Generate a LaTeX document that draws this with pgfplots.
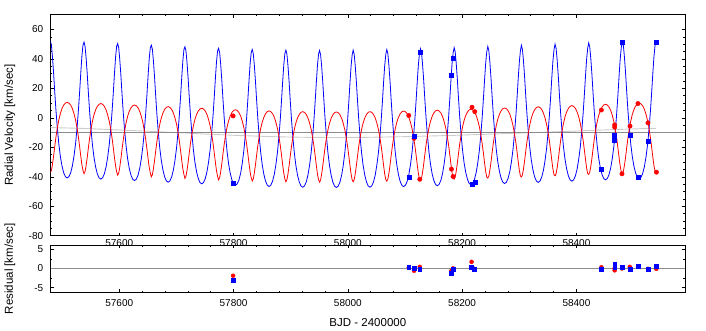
\documentclass[border=0pt]{standalone}
\usepackage{fontspec}
\setmainfont{Liberation Sans}
\usepackage{pgfplots}
\usepackage{pgfplotstable}
\pgfplotsset{compat=1.18}

% model curves: time, primary (blue), secondary (red)
\pgfplotstableread{
t b r
57479.4 52.2 -37.1
57481.2 49.4 -35.7
57483.0 41.8 -31.8
57485.0 30.8 -26.2
57487.0 18.0 -19.7
57489.2 5.1 -13.0
57491.6 -6.9 -6.9
57494.1 -17.3 -1.6
57496.8 -25.9 2.8
57499.7 -32.5 6.2
57502.7 -37.2 8.6
57505.7 -39.9 10.0
57508.8 -40.8 10.5
57511.9 -39.9 10.0
57515.0 -37.2 8.6
57518.0 -32.5 6.2
57520.8 -25.9 2.8
57523.6 -17.3 -1.6
57526.1 -6.9 -6.9
57528.5 5.1 -13.0
57530.7 18.0 -19.7
57532.7 30.8 -26.2
57534.6 41.8 -31.8
57536.5 49.4 -35.7
57538.3 51.4 -37.9
57540.1 48.6 -36.5
57541.9 41.0 -32.6
57543.9 30.0 -27.0
57545.9 17.2 -20.5
57548.1 4.3 -13.8
57550.5 -7.7 -7.7
57553.0 -18.1 -2.4
57555.7 -26.7 2.0
57558.6 -33.3 5.4
57561.6 -38.0 7.8
57564.6 -40.7 9.2
57567.7 -41.6 9.7
57570.8 -40.7 9.2
57573.9 -38.0 7.8
57576.9 -33.3 5.4
57579.7 -26.7 2.0
57582.5 -18.1 -2.4
57585.0 -7.7 -7.7
57587.4 4.3 -13.8
57589.6 17.2 -20.5
57591.6 30.0 -27.0
57593.5 41.0 -32.6
57595.4 48.6 -36.5
57597.2 50.4 -38.9
57599.0 47.6 -37.5
57600.8 40.0 -33.6
57602.8 29.0 -28.0
57604.8 16.2 -21.5
57607.0 3.3 -14.8
57609.4 -8.7 -8.7
57611.9 -19.1 -3.4
57614.6 -27.7 1.0
57617.5 -34.3 4.4
57620.5 -39.0 6.8
57623.5 -41.7 8.2
57626.6 -42.6 8.7
57629.7 -41.7 8.2
57632.8 -39.0 6.8
57635.8 -34.3 4.4
57638.6 -27.7 1.0
57641.4 -19.1 -3.4
57643.9 -8.7 -8.7
57646.3 3.3 -14.8
57648.5 16.2 -21.5
57650.5 29.0 -28.0
57652.4 40.0 -33.6
57654.3 47.6 -37.5
57656.1 49.3 -40.0
57657.9 46.5 -38.6
57659.7 38.9 -34.7
57661.7 27.9 -29.1
57663.7 15.1 -22.6
57665.9 2.2 -15.9
57668.3 -9.8 -9.8
57670.8 -20.2 -4.5
57673.5 -28.8 -0.1
57676.4 -35.4 3.3
57679.4 -40.1 5.7
57682.4 -42.8 7.1
57685.5 -43.7 7.6
57688.6 -42.8 7.1
57691.7 -40.1 5.7
57694.7 -35.4 3.3
57697.5 -28.8 -0.1
57700.3 -20.2 -4.5
57702.8 -9.8 -9.8
57705.2 2.2 -15.9
57707.4 15.1 -22.6
57709.4 27.9 -29.1
57711.3 38.9 -34.7
57713.2 46.5 -38.6
57714.9 48.2 -41.1
57716.7 45.4 -39.7
57718.5 37.8 -35.8
57720.5 26.8 -30.2
57722.5 14.0 -23.7
57724.7 1.1 -17.0
57727.1 -10.9 -10.9
57729.6 -21.3 -5.6
57732.3 -29.9 -1.2
57735.2 -36.5 2.2
57738.2 -41.2 4.6
57741.2 -43.9 6.0
57744.3 -44.8 6.5
57747.4 -43.9 6.0
57750.5 -41.2 4.6
57753.5 -36.5 2.2
57756.3 -29.9 -1.2
57759.1 -21.3 -5.6
57761.6 -10.9 -10.9
57764.0 1.1 -17.0
57766.2 14.0 -23.7
57768.2 26.8 -30.2
57770.1 37.8 -35.8
57772.0 45.4 -39.7
57773.8 47.2 -42.1
57775.6 44.4 -40.7
57777.4 36.8 -36.8
57779.4 25.8 -31.2
57781.4 13.0 -24.7
57783.6 0.1 -18.0
57786.0 -11.9 -11.9
57788.5 -22.3 -6.6
57791.2 -30.9 -2.2
57794.1 -37.5 1.2
57797.1 -42.2 3.6
57800.1 -44.9 5.0
57803.2 -45.8 5.5
57806.3 -44.9 5.0
57809.4 -42.2 3.6
57812.4 -37.5 1.2
57815.2 -30.9 -2.2
57818.0 -22.3 -6.6
57820.5 -11.9 -11.9
57822.9 0.1 -18.0
57825.1 13.0 -24.7
57827.1 25.8 -31.2
57829.0 36.8 -36.8
57830.9 44.4 -40.7
57832.7 46.4 -42.9
57834.5 43.6 -41.5
57836.3 36.0 -37.6
57838.3 25.0 -32.0
57840.3 12.2 -25.5
57842.5 -0.7 -18.8
57844.9 -12.7 -12.7
57847.4 -23.1 -7.4
57850.1 -31.7 -3.0
57853.0 -38.3 0.4
57856.0 -43.0 2.8
57859.0 -45.7 4.2
57862.1 -46.6 4.7
57865.2 -45.7 4.2
57868.3 -43.0 2.8
57871.3 -38.3 0.4
57874.1 -31.7 -3.0
57876.9 -23.1 -7.4
57879.4 -12.7 -12.7
57881.8 -0.7 -18.8
57884.0 12.2 -25.5
57886.0 25.0 -32.0
57887.9 36.0 -37.6
57889.8 43.6 -41.5
57891.6 45.9 -43.4
57893.4 43.1 -42.0
57895.2 35.5 -38.1
57897.2 24.5 -32.5
57899.2 11.7 -26.0
57901.4 -1.2 -19.3
57903.8 -13.2 -13.2
57906.3 -23.6 -7.9
57909.0 -32.2 -3.5
57911.9 -38.8 -0.1
57914.9 -43.5 2.3
57917.9 -46.2 3.7
57921.0 -47.1 4.2
57924.1 -46.2 3.7
57927.2 -43.5 2.3
57930.2 -38.8 -0.1
57933.0 -32.2 -3.5
57935.8 -23.6 -7.9
57938.3 -13.2 -13.2
57940.7 -1.2 -19.3
57942.9 11.7 -26.0
57944.9 24.5 -32.5
57946.8 35.5 -38.1
57948.7 43.1 -42.0
57950.5 45.7 -43.6
57952.3 42.9 -42.2
57954.1 35.3 -38.3
57956.1 24.3 -32.7
57958.1 11.5 -26.2
57960.3 -1.4 -19.5
57962.7 -13.4 -13.4
57965.2 -23.8 -8.1
57967.9 -32.4 -3.7
57970.8 -39.0 -0.3
57973.8 -43.7 2.1
57976.8 -46.4 3.5
57979.9 -47.3 4.0
57983.0 -46.4 3.5
57986.1 -43.7 2.1
57989.1 -39.0 -0.3
57991.9 -32.4 -3.7
57994.7 -23.8 -8.1
57997.2 -13.4 -13.4
57999.6 -1.4 -19.5
58001.8 11.5 -26.2
58003.8 24.3 -32.7
58005.7 35.3 -38.3
58007.6 42.9 -42.2
58009.3 45.9 -43.4
58011.1 43.1 -42.0
58012.9 35.5 -38.1
58014.9 24.5 -32.5
58016.9 11.7 -26.0
58019.1 -1.2 -19.3
58021.5 -13.2 -13.2
58024.0 -23.6 -7.9
58026.7 -32.2 -3.5
58029.6 -38.8 -0.1
58032.6 -43.5 2.3
58035.6 -46.2 3.7
58038.7 -47.1 4.2
58041.8 -46.2 3.7
58044.9 -43.5 2.3
58047.9 -38.8 -0.1
58050.7 -32.2 -3.5
58053.5 -23.6 -7.9
58056.0 -13.2 -13.2
58058.4 -1.2 -19.3
58060.6 11.7 -26.0
58062.6 24.5 -32.5
58064.5 35.5 -38.1
58066.4 43.1 -42.0
58068.2 46.3 -43.0
58070.0 43.5 -41.6
58071.8 35.9 -37.7
58073.8 24.9 -32.1
58075.8 12.1 -25.6
58078.0 -0.8 -18.9
58080.4 -12.8 -12.8
58082.9 -23.2 -7.5
58085.6 -31.8 -3.1
58088.5 -38.4 0.3
58091.5 -43.1 2.7
58094.5 -45.8 4.1
58097.6 -46.7 4.6
58100.7 -45.8 4.1
58103.8 -43.1 2.7
58106.8 -38.4 0.3
58109.6 -31.8 -3.1
58112.4 -23.2 -7.5
58114.9 -12.8 -12.8
58117.3 -0.8 -18.9
58119.5 12.1 -25.6
58121.5 24.9 -32.1
58123.4 35.9 -37.7
58125.3 43.5 -41.6
58127.1 46.9 -42.4
58128.9 44.1 -41.0
58130.7 36.5 -37.1
58132.7 25.5 -31.5
58134.7 12.7 -25.0
58136.9 -0.2 -18.3
58139.3 -12.2 -12.2
58141.8 -22.6 -6.9
58144.5 -31.2 -2.5
58147.4 -37.8 0.9
58150.4 -42.5 3.3
58153.4 -45.2 4.7
58156.5 -46.1 5.2
58159.6 -45.2 4.7
58162.7 -42.5 3.3
58165.7 -37.8 0.9
58168.5 -31.2 -2.5
58171.3 -22.6 -6.9
58173.8 -12.2 -12.2
58176.2 -0.2 -18.3
58178.4 12.7 -25.0
58180.4 25.5 -31.5
58182.3 36.5 -37.1
58184.2 44.1 -41.0
58186.0 47.6 -41.7
58187.8 44.8 -40.3
58189.6 37.2 -36.4
58191.6 26.2 -30.8
58193.6 13.4 -24.3
58195.8 0.5 -17.6
58198.2 -11.5 -11.5
58200.7 -21.9 -6.2
58203.4 -30.5 -1.8
58206.3 -37.1 1.6
58209.3 -41.8 4.0
58212.3 -44.5 5.4
58215.4 -45.4 5.9
58218.5 -44.5 5.4
58221.6 -41.8 4.0
58224.6 -37.1 1.6
58227.4 -30.5 -1.8
58230.2 -21.9 -6.2
58232.7 -11.5 -11.5
58235.1 0.5 -17.6
58237.3 13.4 -24.3
58239.3 26.2 -30.8
58241.2 37.2 -36.4
58243.1 44.8 -40.3
58244.9 48.4 -40.9
58246.7 45.6 -39.5
58248.5 38.0 -35.6
58250.5 27.0 -30.0
58252.5 14.2 -23.5
58254.7 1.3 -16.8
58257.1 -10.7 -10.7
58259.6 -21.1 -5.4
58262.3 -29.7 -1.0
58265.2 -36.3 2.4
58268.2 -41.0 4.8
58271.2 -43.7 6.2
58274.3 -44.6 6.7
58277.4 -43.7 6.2
58280.5 -41.0 4.8
58283.5 -36.3 2.4
58286.3 -29.7 -1.0
58289.1 -21.1 -5.4
58291.6 -10.7 -10.7
58294.0 1.3 -16.8
58296.2 14.2 -23.5
58298.2 27.0 -30.0
58300.1 38.0 -35.6
58302.0 45.6 -39.5
58303.7 49.2 -40.1
58305.5 46.4 -38.7
58307.3 38.8 -34.8
58309.3 27.8 -29.2
58311.3 15.0 -22.7
58313.5 2.1 -16.0
58315.9 -9.9 -9.9
58318.4 -20.3 -4.6
58321.1 -28.9 -0.2
58324.0 -35.5 3.2
58327.0 -40.2 5.6
58330.0 -42.9 7.0
58333.1 -43.8 7.5
58336.2 -42.9 7.0
58339.3 -40.2 5.6
58342.3 -35.5 3.2
58345.1 -28.9 -0.2
58347.9 -20.3 -4.6
58350.4 -9.9 -9.9
58352.8 2.1 -16.0
58355.0 15.0 -22.7
58357.0 27.8 -29.2
58358.9 38.8 -34.8
58360.8 46.4 -38.7
58362.6 50.0 -39.3
58364.4 47.2 -37.9
58366.2 39.6 -34.0
58368.2 28.6 -28.4
58370.2 15.8 -21.9
58372.4 2.9 -15.2
58374.8 -9.1 -9.1
58377.3 -19.5 -3.8
58380.0 -28.1 0.6
58382.9 -34.7 4.0
58385.9 -39.4 6.4
58388.9 -42.1 7.8
58392.0 -43.0 8.3
58395.1 -42.1 7.8
58398.2 -39.4 6.4
58401.2 -34.7 4.0
58404.0 -28.1 0.6
58406.8 -19.5 -3.8
58409.3 -9.1 -9.1
58411.7 2.9 -15.2
58413.9 15.8 -21.9
58415.9 28.6 -28.4
58417.8 39.6 -34.0
58419.7 47.2 -37.9
58421.5 50.9 -38.4
58423.3 48.1 -37.0
58425.1 40.5 -33.1
58427.1 29.5 -27.5
58429.1 16.7 -21.0
58431.3 3.8 -14.3
58433.7 -8.2 -8.2
58436.2 -18.6 -2.9
58438.9 -27.2 1.5
58441.8 -33.8 4.9
58444.8 -38.5 7.3
58447.8 -41.2 8.7
58450.9 -42.1 9.2
58454.0 -41.2 8.7
58457.1 -38.5 7.3
58460.1 -33.8 4.9
58462.9 -27.2 1.5
58465.7 -18.6 -2.9
58468.2 -8.2 -8.2
58470.6 3.8 -14.3
58472.8 16.7 -21.0
58474.8 29.5 -27.5
58476.7 40.5 -33.1
58478.6 48.1 -37.0
58480.4 51.7 -37.6
58482.2 48.9 -36.2
58484.0 41.3 -32.3
58486.0 30.3 -26.7
58488.0 17.5 -20.2
58490.2 4.6 -13.5
58492.6 -7.4 -7.4
58495.1 -17.8 -2.1
58497.8 -26.4 2.3
58500.7 -33.0 5.7
58503.7 -37.7 8.1
58506.7 -40.4 9.5
58509.8 -41.3 10.0
58512.9 -40.4 9.5
58516.0 -37.7 8.1
58519.0 -33.0 5.7
58521.8 -26.4 2.3
58524.6 -17.8 -2.1
58527.1 -7.4 -7.4
58529.5 4.6 -13.5
58531.7 17.5 -20.2
58533.7 30.3 -26.7
58535.6 41.3 -32.3
58537.5 48.9 -36.2
58539.3 51.7 -37.4
}\curves

% observed velocities
\pgfplotstableread{
t b r
57799.2 -44.1 1.3
58106.6 -40.4 1.6
58115.9 -12.3 -13.9
58125.9 44.4 -41.7
58181.3 28.9 -34.8
58184.1 40.8 -39.8
58217.3 -45.1 7.2
58222.1 -43.8 4.2
58443.7 -35.1 5.3
58466.9 -11.8 -4.8
58466.9 -15.5 -6.3
58479.7 51.0 -38.0
58493.7 -12.0 -5.6
58507.7 -40.3 9.7
58525.2 -15.7 -3.4
58540.0 51.4 -36.9
}\obs

% residuals
\pgfplotstableread{
t b r
57799.2 -3.1 -1.9
58106.6 0.3 0.2
58115.9 0.0 -0.6
58125.9 -0.2 0.4
58181.3 -1.3 -0.6
58184.1 -0.2 0.0
58216.5 0.3 1.7
58221.5 -0.3 -0.1
58443.7 -0.3 0.3
58466.9 1.0 -0.5
58466.9 0.3 0.0
58479.7 0.4 0.0
58493.4 -0.3 0.4
58507.7 0.5 0.6
58525.2 -0.1 -0.1
58539.8 0.5 -0.1
}\resid

\pgfplotsset{
  rvframe/.style={
    scale only axis,
    width=634.3pt,
    anchor=south west,
    xmin=57480, xmax=58590,
    xtick={57600,57800,58000,58200,58400},
    minor x tick num=4,
    tick align=inside,
    major tick length=3pt,
    minor tick length=1.6pt,
    every tick/.style={black, line width=0.5pt},
    axis line style={black, line width=1pt},
    scaled x ticks=false,
    /pgf/number format/assume math mode=true,
    tick label style={font=\fontsize{10}{12}\selectfont},
    label style={font=\fontsize{11.5}{13.8}\selectfont},
    xticklabel style={/pgf/number format/fixed, /pgf/number format/1000 sep={}},
    yticklabel style={xshift=-4pt},
    ylabel style={at={(axis description cs:-0.0642,0.5)}, anchor=center},
  }
}

\begin{document}
\begin{tikzpicture}
\useasboundingbox (0,0) rectangle (706pt,330pt);

\begin{axis}[rvframe,
    at={(50.7pt,94.3pt)}, height=221pt,
    ymin=-80, ymax=70,
    ytick={-80,-60,-40,-20,0,20,40,60},
    minor y tick num=3,
    xticklabel={},
    ylabel={Radial Velocity [km/sec]},
]
\addplot[gray!40, line width=0.9pt] coordinates {
(57480,-6.6) (57509,-6.9) (57538,-7.2) (57568,-7.7) (57597,-8.2) (57627,-8.7)
(57656,-9.2) (57686,-9.8) (57715,-10.3) (57744,-10.9) (57774,-11.4) (57803,-11.9)
(57833,-12.3) (57862,-12.7) (57892,-13.0) (57921,-13.2) (57951,-13.3) (57980,-13.4)
(58009,-13.35) (58039,-13.2) (58068,-13.0) (58098,-12.8) (58127,-12.5) (58157,-12.2)
(58186,-11.9) (58215,-11.5) (58245,-11.1) (58274,-10.7) (58304,-10.3) (58333,-9.9)
(58363,-9.5) (58392,-9.1) (58421,-8.6) (58451,-8.2) (58480,-7.8) (58510,-7.4)
(58539,-7.1)};
\addplot[gray!90, line width=0.9pt] coordinates {(57480,-9.6) (58590,-9.6)};
\addplot[blue, line width=0.8pt] table[x=t, y=b] {\curves};
\addplot[red, line width=0.8pt] table[x=t, y=r] {\curves};
\addplot[only marks, mark=*, mark size=2.2pt, red] table[x=t, y=r] {\obs};
\addplot[only marks, mark=square*, mark size=2pt, blue] table[x=t, y=b] {\obs};
\end{axis}

\begin{axis}[rvframe,
    at={(50.7pt,37.7pt)}, height=47pt,
    ymin=-6.2, ymax=6,
    ytick={-5,0,5},
    minor y tick num=1,
    xticklabel style={yshift=-4pt},
    xlabel={BJD - 2400000},
    xlabel style={at={(axis description cs:0.5,0)}, anchor=center, yshift=-30pt},
    ylabel={Residual [km/sec]},
]
\addplot[gray!90, line width=0.8pt] coordinates {(57480,0) (58590,0)};
\addplot[only marks, mark=*, mark size=2pt, red] table[x=t, y=r] {\resid};
\addplot[only marks, mark=square*, mark size=1.9pt, blue] table[x=t, y=b] {\resid};
\end{axis}
\end{tikzpicture}
\end{document}
